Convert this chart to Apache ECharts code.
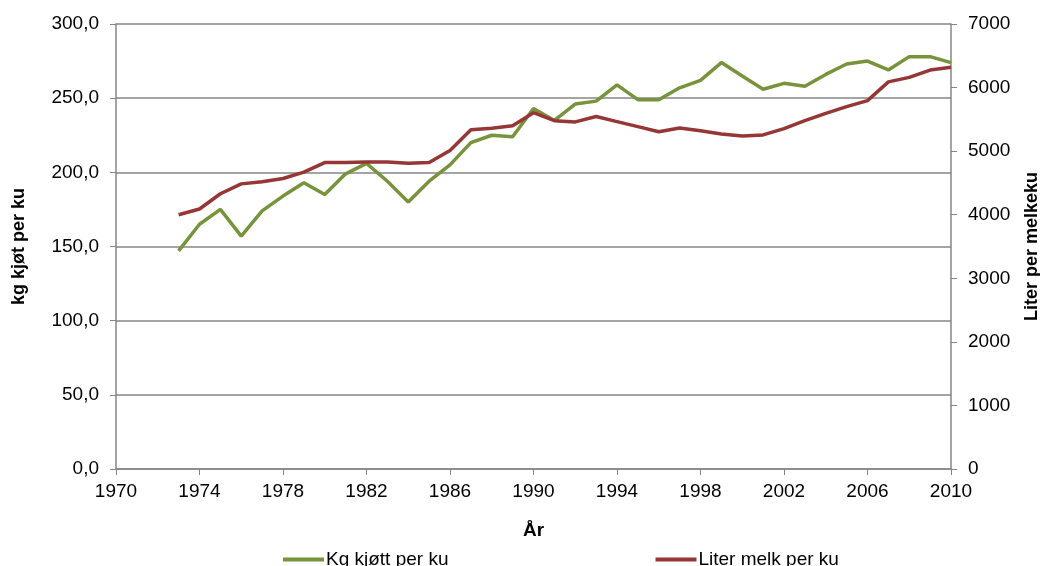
<!DOCTYPE html>
<html>
<head>
<meta charset="utf-8">
<script src="https://cdn.jsdelivr.net/npm/echarts@6/dist/echarts.min.js"></script>
<style>
  html, body { margin: 0; padding: 0; background: #fff; }
  #chart { width: 1040px; height: 566px; }
</style>
</head>
<body>
<div id="chart"></div>
<script>
var years = [1973, 1974, 1975, 1976, 1977, 1978, 1979, 1980, 1981, 1982,
  1983, 1984, 1985, 1986, 1987, 1988, 1989, 1990, 1991, 1992,
  1993, 1994, 1995, 1996, 1997, 1998, 1999, 2000, 2001, 2002,
  2003, 2004, 2005, 2006, 2007, 2008, 2009, 2010];

// kg kjøtt per ku (venstre akse)
var kgKjott = [147, 165, 175, 157, 174, 184, 193, 185, 199, 206,
  194, 180, 194, 205, 220, 225, 224, 243, 235, 246,
  248, 259, 249, 249, 257, 262, 274, 265, 256, 260,
  258, 266, 273, 275, 269, 278, 278, 274];

// liter melk per ku (høyre akse)
var literMelk = [4000, 4090, 4330, 4485, 4520, 4570, 4670, 4820, 4820, 4830,
  4830, 4810, 4820, 5010, 5335, 5360, 5400, 5605, 5480, 5460,
  5545, 5465, 5385, 5305, 5365, 5320, 5270, 5240, 5255, 5355,
  5480, 5595, 5700, 5795, 6090, 6160, 6275, 6320];

var seriesNames = ['Kg kjøtt per ku', 'Liter melk per ku'];

function pairs(vals) {
  return years.map(function (y, i) { return [y, vals[i]]; });
}

var font = 'Liberation Sans, Arial, sans-serif';
var axisGrey = '#868686';

var myChart = echarts.init(document.getElementById('chart'));

var option = {
  animation: false,
  textStyle: { fontFamily: font },
  grid: { left: 116, right: 89, top: 24, bottom: 97, outerBoundsMode: 'none' },
  legend: {
    data: seriesNames,
    left: 278,
    top: 545,
    itemGap: 207,
    itemWidth: 41,
    itemHeight: 4,
    icon: 'rect',
    textStyle: { fontSize: 19, color: '#000', fontFamily: font, padding: [0, 0, 0, -3] }
  },
  xAxis: {
    type: 'value',
    min: 1970,
    max: 2010,
    interval: 4,
    name: 'År',
    nameLocation: 'middle',
    nameGap: 52,
    nameTextStyle: { fontSize: 19, fontWeight: 'bold', color: '#000' },
    axisLine: { lineStyle: { color: axisGrey, width: 1.5 } },
    axisTick: { show: true, length: 6, lineStyle: { color: axisGrey } },
    axisLabel: { fontSize: 19, color: '#000', margin: 13,
      formatter: function (v) { return String(v); } },
    splitLine: { show: false }
  },
  yAxis: [
    {
      type: 'value',
      min: 0,
      max: 300,
      interval: 50,
      name: 'kg kjøt per ku',
      nameLocation: 'middle',
      nameRotate: 90,
      nameGap: 88,
      nameTextStyle: { fontSize: 18, fontWeight: 'bold', color: '#000' },
      axisLine: { show: true, lineStyle: { color: axisGrey, width: 1.5 } },
      axisTick: { show: true, length: 6, lineStyle: { color: axisGrey } },
      axisLabel: { fontSize: 19, color: '#000', margin: 17,
        formatter: function (v) { return v.toFixed(1).replace('.', ','); } },
      splitLine: { show: true, lineStyle: { color: axisGrey, width: 1.5 } }
    },
    {
      type: 'value',
      min: 0,
      max: 7000,
      interval: 1000,
      position: 'right',
      name: 'Liter per melkeku',
      nameLocation: 'middle',
      nameRotate: 90,
      nameGap: 72,
      nameTextStyle: { fontSize: 18, fontWeight: 'bold', color: '#000' },
      axisLine: { show: true, lineStyle: { color: axisGrey, width: 1.5 } },
      axisTick: { show: true, length: 6, lineStyle: { color: axisGrey } },
      axisLabel: { fontSize: 19, color: '#000', margin: 17,
        formatter: function (v) { return String(v); } },
      splitLine: { show: false }
    }
  ],
  series: [
    {
      name: seriesNames[0],
      type: 'line',
      yAxisIndex: 0,
      data: pairs(kgKjott),
      showSymbol: false,
      symbol: 'none',
      lineStyle: { width: 3.5, color: '#77933c' },
      itemStyle: { color: '#77933c' }
    },
    {
      name: seriesNames[1],
      type: 'line',
      yAxisIndex: 1,
      data: pairs(literMelk),
      showSymbol: false,
      symbol: 'none',
      lineStyle: { width: 3.5, color: '#953735' },
      itemStyle: { color: '#953735' }
    }
  ]
};

myChart.setOption(option);
window.addEventListener('resize', function () {
  myChart.resize();
});
</script>
</body>
</html>
